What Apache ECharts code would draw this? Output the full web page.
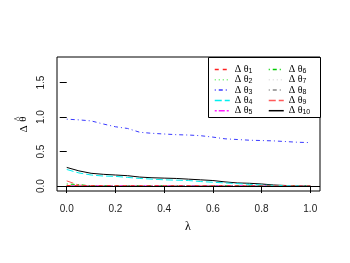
<!DOCTYPE html>
<html><head><meta charset="utf-8">
<script src="https://cdn.jsdelivr.net/npm/echarts@6/dist/echarts.min.js"></script>
<style>html,body{margin:0;padding:0;background:#fff}#c{width:350px;height:263px}</style>
</head><body><div id="c"></div>
<script>
var lambda = [0,0.05,0.1,0.15,0.2,0.25,0.3,0.35,0.4,0.45,0.5,0.55,0.6,0.65,0.7,0.75,0.8,0.85,0.9,0.95,1.0];
var theta1 = [0.008,0.005,0.004,0.004,0.004,0.004,0.003,0.003,0.003,0.003,0.003,0.003,0.003,0.003,0.003,0.003,0.002,0.002,0.002,0.002,0.002];
var theta2 = [0.004,0.003,0.003,0.003,0.003,0.003,0.003,0.003,0.003,0.003,0.003,0.003,0.003,0.003,0.003,0.003,0.002,0.002,0.002,0.002,0.002];
var theta3 = [0.97,0.96,0.945,0.90,0.86,0.835,0.78,0.765,0.755,0.745,0.74,0.73,0.71,0.685,0.675,0.665,0.66,0.655,0.645,0.635,0.63];
var theta4 = [0.24,0.19,0.16,0.145,0.14,0.125,0.11,0.10,0.09,0.085,0.08,0.065,0.055,0.045,0.035,0.025,0.015,0.008,0.004,0.002,0.001];
var theta5 = [0.004,0.003,0.003,0.003,0.003,0.003,0.003,0.003,0.003,0.003,0.003,0.003,0.003,0.003,0.003,0.003,0.002,0.002,0.002,0.002,0.002];
var theta6 = [0.03,0.02,0.004,0.003,0.003,0.003,0.003,0.003,0.003,0.003,0.003,0.003,0.003,0.003,0.003,0.003,0.002,0.002,0.002,0.002,0.002];
var theta7 = [0.003,0.003,0.003,0.003,0.003,0.003,0.003,0.003,0.003,0.003,0.003,0.003,0.003,0.003,0.003,0.003,0.002,0.002,0.002,0.002,0.002];
var theta8 = [0.003,0.003,0.003,0.003,0.003,0.003,0.003,0.003,0.003,0.003,0.003,0.003,0.003,0.003,0.003,0.003,0.002,0.002,0.002,0.002,0.002];
var theta9 = [0.075,0.012,0.005,0.004,0.004,0.004,0.004,0.003,0.003,0.003,0.003,0.003,0.003,0.003,0.003,0.003,0.002,0.002,0.002,0.002,0.002];
var theta10 = [0.27,0.22,0.185,0.17,0.16,0.15,0.13,0.12,0.115,0.11,0.10,0.09,0.08,0.06,0.045,0.04,0.03,0.015,0.008,0.004,0.003];
var xTicks = [0,0.2,0.4,0.6,0.8,1.0];
var yTicks = [0,0.5,1.0,1.5];
var seriesNames = ['Δθ1','Δθ2','Δθ3','Δθ4','Δθ5','Δθ6','Δθ7','Δθ8','Δθ9','Δθ10'];
var seriesData = [theta1,theta2,theta3,theta4,theta5,theta6,theta7,theta8,theta9,theta10];
var colors = ['#ff2020','#66ee66','#3a3aff','#00f0f0','#ff20ff','#00cc00','#dddddd','#888888','#ff5a5a','#000000'];
var dashes = [[4,4],[1,3],[1,3,4,3],[7,3],[2,2,6,2],[1,3,4,3],[1,3],[1,3,4,3],[7,3],'solid'];

var chart = echarts.init(document.getElementById('c'), null, {renderer:'canvas'});
var series = seriesNames.map(function(n,i){
  var d = lambda.map(function(x,j){return [x, seriesData[i][j]];});
  return {name:n, type:'line', data:d, symbol:'none', showSymbol:false, z: 2 + (9-i)*0.01,
    lineStyle:{color:colors[i], width:1, type:dashes[i]}, itemStyle:{color:colors[i]}, animation:false};
});
series[9].markLine = {silent:true, symbol:'none', label:{show:false}, lineStyle:{color:'#000',width:1,type:'solid'}, data:[{yAxis:0}], animation:false};
function fmt(name){ return '{g|Δ θ}{s|' + name.slice(2) + '}'; }
var legText = {fontSize:10, color:'#000', fontFamily:'Liberation Serif', lineHeight:10,
  rich:{g:{fontSize:10, fontFamily:'Liberation Serif', color:'#000', lineHeight:10},
        s:{fontSize:7, fontFamily:'Liberation Sans', color:'#000', lineHeight:10, verticalAlign:'bottom', padding:[3,0,0,0]}}};
var legItem = {color:'rgba(0,0,0,0)', borderColor:'rgba(0,0,0,0)', borderWidth:0};
function legData(arr){ return arr.map(function(n){ var i = seriesNames.indexOf(n);
  return {name:n, lineStyle:{color:colors[i], width:1.5, type:dashes[i]}}; }); }
var option = {
  backgroundColor:'#fff',
  animation:false,
  grid:{left:57, top:57, width:263, height:134, show:true, borderColor:'#000', borderWidth:1, backgroundColor:'transparent'},
  xAxis:{type:'value', min:-0.04, max:1.04,
    axisLine:{show:false}, splitLine:{show:false},
    axisTick:{show:true, customValues:xTicks, length:7, lineStyle:{color:'#000'}},
    axisLabel:{customValues:xTicks, formatter:function(v){return v.toFixed(1);}, fontSize:10, color:'#222', fontFamily:'Liberation Sans', margin:13}},
  yAxis:{type:'value', min:-0.072, max:1.872,
    axisLine:{show:false}, splitLine:{show:false},
    axisTick:{show:true, customValues:yTicks, length:7, lineStyle:{color:'#000'}},
    axisLabel:{customValues:yTicks, formatter:function(v){return v.toFixed(1);}, rotate:90, fontSize:10, color:'#222', fontFamily:'Liberation Sans', margin:11}},
  legend:[
    {data:legData(seriesNames.slice(0,5)), orient:'vertical', left:214, top:64.5, itemWidth:15, itemHeight:8, itemGap:0.3, padding:0,
      formatter:fmt, textStyle:legText, itemStyle:legItem, selectedMode:false},
    {data:legData(seriesNames.slice(5)), orient:'vertical', left:268, top:64.5, itemWidth:15, itemHeight:8, itemGap:0.3, padding:0,
      formatter:fmt, textStyle:legText, itemStyle:legItem, selectedMode:false}
  ],
  graphic:[
    {type:'rect', z:3, shape:{x:208.5, y:57.5, width:112, height:60}, style:{fill:'#fff', stroke:'#000', lineWidth:1}},
    {type:'text', left:185, top:221, style:{text:'λ', fontSize:12, fontFamily:'Liberation Serif', fill:'#000'}},
    {type:'text', x:24, y:129, rotation:Math.PI/2, style:{text:'Δ', fontSize:11, fontFamily:'Liberation Serif', fill:'#000', align:'center', verticalAlign:'middle'}},
    {type:'text', x:23.5, y:119, rotation:Math.PI/2, style:{text:'θ', fontSize:11, fontFamily:'Liberation Serif', fill:'#000', align:'center', verticalAlign:'middle'}},
    {type:'text', x:18, y:119, rotation:Math.PI/2, style:{text:'^', fontSize:10, fontFamily:'Liberation Serif', fill:'#000', align:'center', verticalAlign:'middle'}}
  ],
  series:series
};
chart.setOption(option);
</script></body></html>
